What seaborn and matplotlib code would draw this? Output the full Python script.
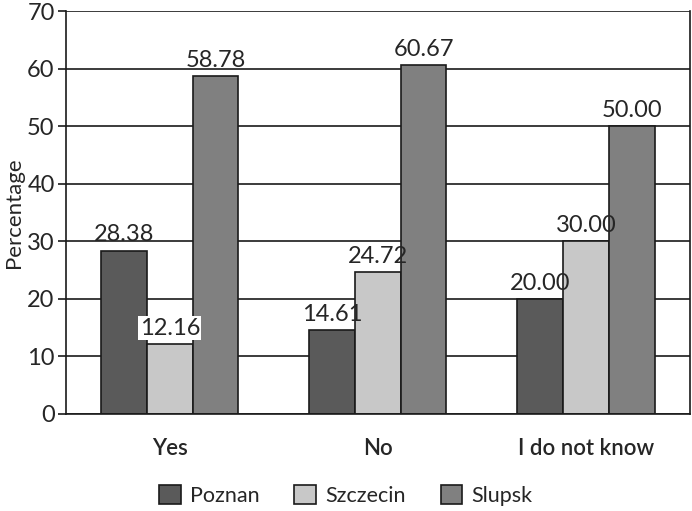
import seaborn as sns
import matplotlib.pyplot as plt
import pandas as pd

categories = ['Yes', 'No', 'I do not know']
cities = ['Poznan', 'Szczecin', 'Slupsk']
poznan = [28.38, 14.61, 20.00]
szczecin = [12.16, 24.72, 30.00]
slupsk = [58.78, 60.67, 50.00]

df = pd.DataFrame({
    'answer': categories * 3,
    'city': [c for c in cities for _ in categories],
    'value': poznan + szczecin + slupsk,
})

sns.set_style('white')
plt.rcParams['font.family'] = ['Lato', 'DejaVu Sans']

fig, ax = plt.subplots(figsize=(6.92, 5.11), dpi=100)
pal = {'Poznan': '#5a5a5a', 'Szczecin': '#c8c8c8', 'Slupsk': '#808080'}
sns.barplot(data=df, x='answer', y='value', hue='city', palette=pal,
            width=0.66, edgecolor='#1a1a1a', linewidth=1.2, saturation=1, ax=ax)

ax.set_ylim(0, 70)
ax.set_yticks(range(0, 71, 10))
ax.yaxis.grid(True, color='#1a1a1a', linewidth=1.2)
ax.set_axisbelow(True)
for s in ['left', 'right', 'bottom']:
    ax.spines[s].set_color('#1a1a1a')
    ax.spines[s].set_linewidth(1.2)
ax.spines['top'].set_visible(False)
ax.tick_params(axis='y', length=6, width=1.2, color='#1a1a1a', labelsize=17, left=True, pad=2)
ax.tick_params(axis='x', length=0, labelsize=16, pad=17)
for t in ax.get_xticklabels():
    t.set_fontweight('semibold')
ax.set_xlabel('')
ax.set_ylabel('Percentage', fontsize=16, labelpad=2)

for i, cont in enumerate(ax.containers):
    for bar, v in zip(cont, cont.datavalues):
        kw = {}
        if v == 12.16:
            kw['bbox'] = dict(facecolor='white', edgecolor='none', pad=1)
        ax.text(bar.get_x() + bar.get_width() / 2, v + 0.9, f'{v:.2f}',
                ha='center', va='bottom', fontsize=17, **kw)

handles, labels = ax.get_legend_handles_labels()
ax.get_legend().remove()
fig.legend(handles, labels, loc='center', bbox_to_anchor=(0.5, 0.03), ncol=3, frameon=False,
           fontsize=15.5, handlelength=1.0, handleheight=1.0, columnspacing=1.6, handletextpad=0.45)

plt.subplots_adjust(left=0.095, right=0.997, top=0.978, bottom=0.19)
plt.savefig('out.png')
